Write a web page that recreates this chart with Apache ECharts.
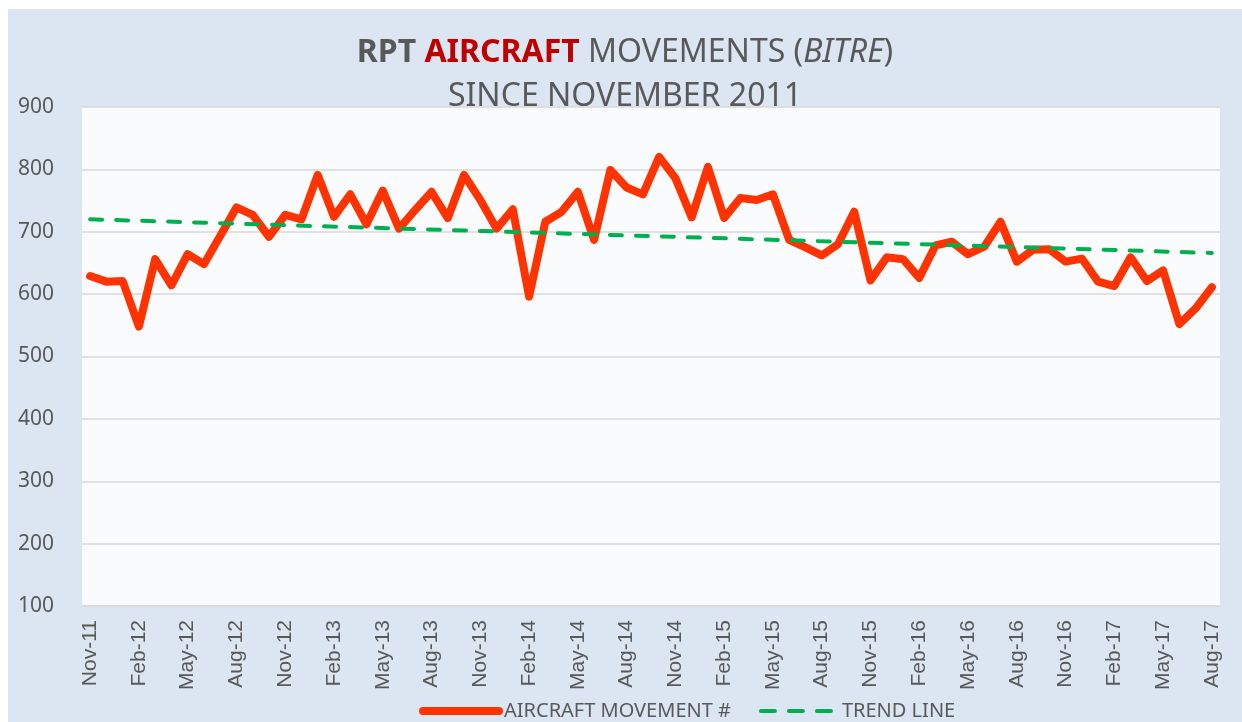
<!DOCTYPE html>
<html>
<head>
<meta charset="utf-8">
<script src="https://cdn.jsdelivr.net/npm/echarts@6/dist/echarts.min.js"></script>
<style>
  html, body { margin: 0; padding: 0; background: #ffffff; }
  #chart { position: absolute; left: 8px; top: 9px; width: 1234px; height: 713px; background: #dce6f2; }
</style>
</head>
<body>
<div id="chart"></div>
<script>
// monthly categories Nov-11 .. Aug-17
const months = [
  'Nov-11', 'Dec-11', 'Jan-12', 'Feb-12', 'Mar-12', 'Apr-12', 'May-12', 'Jun-12', 'Jul-12', 'Aug-12', 'Sep-12', 'Oct-12',
  'Nov-12', 'Dec-12', 'Jan-13', 'Feb-13', 'Mar-13', 'Apr-13', 'May-13', 'Jun-13', 'Jul-13', 'Aug-13', 'Sep-13', 'Oct-13',
  'Nov-13', 'Dec-13', 'Jan-14', 'Feb-14', 'Mar-14', 'Apr-14', 'May-14', 'Jun-14', 'Jul-14', 'Aug-14', 'Sep-14', 'Oct-14',
  'Nov-14', 'Dec-14', 'Jan-15', 'Feb-15', 'Mar-15', 'Apr-15', 'May-15', 'Jun-15', 'Jul-15', 'Aug-15', 'Sep-15', 'Oct-15',
  'Nov-15', 'Dec-15', 'Jan-16', 'Feb-16', 'Mar-16', 'Apr-16', 'May-16', 'Jun-16', 'Jul-16', 'Aug-16', 'Sep-16', 'Oct-16',
  'Nov-16', 'Dec-16', 'Jan-17', 'Feb-17', 'Mar-17', 'Apr-17', 'May-17', 'Jun-17', 'Jul-17', 'Aug-17'
]

// aircraft movements
const movements = [
  629, 620, 621, 548, 656, 614, 664, 648, 693, 739, 727, 692,
  727, 720, 791, 724, 760, 712, 766, 705, 735, 764, 722, 791,
  751, 705, 736, 596, 716, 732, 764, 687, 799, 771, 760, 820,
  786, 723, 804, 722, 754, 751, 760, 687, 675, 662, 680, 732,
  622, 659, 656, 626, 678, 684, 664, 676, 716, 652, 671, 672,
  652, 657, 620, 613, 659, 621, 638, 552, 577, 611
]

// trend line end points
const trendEnds = [['Nov-11', 720], ['Aug-17', 666]]

const yTicks = { min: 100, max: 900, interval: 100 }

const grey = '#595959'
const red = '#ff3300'
const green = '#00b050'
const chart = echarts.init(document.getElementById('chart'))

const titleFont = { fontFamily: 'Noto Sans', fontSize: 32, color: grey, lineHeight: 44, fontWeight: 'normal' }

chart.setOption({
  animation: false,
  title: {
    text: '{b|RPT }{r|AIRCRAFT}{n| MOVEMENTS (}{i|BITRE}{n|)}\n{n|SINCE NOVEMBER 2011}',
    left: 'center',
    top: 17,
    textStyle: {
      fontWeight: 'normal',
      rich: {
        b: Object.assign({}, titleFont, { fontWeight: 'bold' }),
        r: Object.assign({}, titleFont, { fontWeight: 'bold', color: '#c00000' }),
        n: titleFont,
        i: Object.assign({}, titleFont, { fontStyle: 'italic' })
      }
    }
  },
  legend: {
    top: 687,
    left: 406,
    itemWidth: 76,
    itemHeight: 14,
    itemGap: 28,
    textStyle: { fontFamily: 'Noto Sans', fontSize: 20, color: grey },
    data: [
      { name: 'AIRCRAFT MOVEMENT #', itemStyle: { opacity: 0 }, lineStyle: { width: 8, color: red, cap: 'round' } },
      { name: 'TREND LINE', itemStyle: { opacity: 0 }, lineStyle: { width: 4, color: green, type: [14, 14], cap: 'round' } }
    ]
  },
  grid: {
    left: 74,
    right: 22,
    top: 98,
    bottom: 116,
    show: true,
    backgroundColor: '#f9fbfd',
    borderWidth: 0
  },
  xAxis: {
    type: 'category',
    data: months,
    boundaryGap: true,
    axisLine: { lineStyle: { color: '#d9d9d9', width: 1.5 } },
    axisTick: { interval: 2, length: 7, lineStyle: { color: '#d9d9d9', width: 1.5 } },
    axisLabel: {
      interval: 2,
      rotate: 90,
      margin: 14,
      fontFamily: 'Liberation Sans',
      fontSize: 21,
      color: grey
    }
  },
  yAxis: {
    type: 'value',
    min: yTicks.min,
    max: yTicks.max,
    interval: yTicks.interval,
    axisLine: { show: false },
    axisTick: { show: false },
    splitLine: { lineStyle: { color: '#d9d9d9', width: 1.5 } },
    axisLabel: { fontFamily: 'Noto Sans', fontSize: 21, color: grey, margin: 28 }
  },
  series: [
    {
      name: 'AIRCRAFT MOVEMENT #',
      type: 'line',
      data: movements,
      symbol: 'none',
      lineStyle: { color: red, width: 8, join: 'round', cap: 'round' },
      itemStyle: { color: red },
      z: 3
    },
    {
      name: 'TREND LINE',
      type: 'line',
      data: trendEnds,
      symbol: 'none',
      lineStyle: { color: green, width: 4, type: [12, 14], cap: 'round' },
      itemStyle: { color: green },
      z: 4
    }
  ]
})
</script>
</body>
</html>
